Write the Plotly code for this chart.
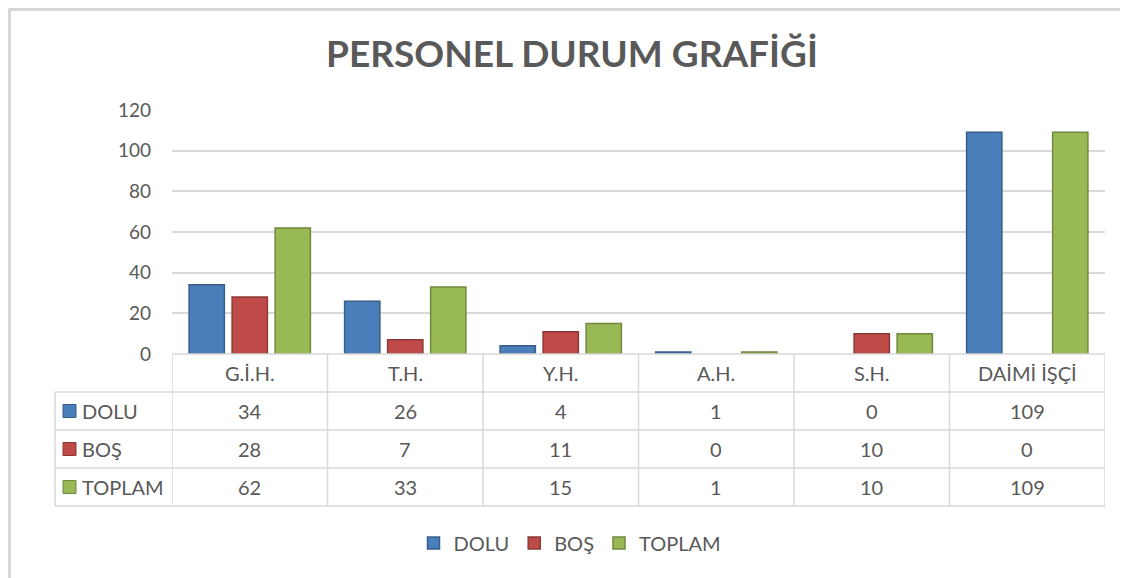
import plotly.graph_objects as go

categories = ["G.İ.H.", "T.H.", "Y.H.", "A.H.", "S.H.", "DAİMİ İŞÇİ"]
dolu = [34, 26, 4, 1, 0, 109]
bos = [28, 7, 11, 0, 10, 0]
toplam = [62, 33, 15, 1, 10, 109]
series_names = ["DOLU", "BOŞ", "TOPLAM"]
y_ticks = [0, 20, 40, 60, 80, 100, 120]

fills = ["#4A7EBB", "#BE4B48", "#98B954"]
edges = ["#385D8A", "#8C3836", "#71893F"]
TXT = "#595959"
GRID = "#D9D9D9"
FONT = "Lato"

OFF = 8  # page body margin
SW, SH = 1128, 578
W, H = SW - OFF, SH - OFF
# plot area in screen pixels
L, R, T, B = 172, 1105, 110, 354
PW, PH = R - L, B - T


def px(xp):
    return (xp - L) / PW


def py(yp):
    return (B - yp) / PH


fig = go.Figure()
series = [dolu, bos, toplam]
for name, vals, f, e in zip(series_names, series, fills, edges):
    fig.add_trace(go.Bar(
        x=categories, y=vals, name=name,
        marker=dict(color=f, line=dict(color=e, width=[0 if v == 0 else 1.5 for v in vals])),
        hoverinfo="x+y+name",
    ))

shapes = []
annotations = []

# outer chart border
shapes.append(dict(type="rect", xref="paper", yref="paper",
                   x0=px(9.5), x1=px(1140), y0=py(9.5), y1=py(600),
                   line=dict(color="#D6D6D6", width=3), layer="below"))

# table geometry (pixel rows)
row_tops = [354, 392, 430, 468, 506]
n = len(categories)
for i, yp in enumerate(row_tops):
    x0 = px(172) if i == 0 else px(55)
    shapes.append(dict(type="line", xref="paper", yref="paper",
                       x0=x0, x1=px(1105), y0=py(yp), y1=py(yp),
                       line=dict(color=GRID, width=1.5)))
for k in range(n + 1):
    shapes.append(dict(type="line", xref="x", yref="paper",
                       x0=k - 0.5, x1=k - 0.5, y0=py(354), y1=py(506),
                       line=dict(color=GRID, width=1.5)))
shapes.append(dict(type="line", xref="paper", yref="paper",
                   x0=px(55), x1=px(55), y0=py(392), y1=py(506),
                   line=dict(color=GRID, width=1.5)))

hy = py((354 + 392) / 2)
for c in categories:
    annotations.append(dict(x=c, y=hy, xref="x", yref="paper", text=c,
                            showarrow=False, font=dict(family=FONT, size=20, color=TXT),
                            xanchor="center", yanchor="middle"))
for r, (name, vals) in enumerate(zip(series_names, series)):
    ymid = py((row_tops[r + 1] + row_tops[r + 2]) / 2)
    shapes.append(dict(type="rect", xref="paper", yref="paper",
                       x0=px(63), x1=px(76), y0=ymid - 6.5 / PH, y1=ymid + 6.5 / PH,
                       fillcolor=fills[r], line=dict(color=edges[r], width=1)))
    annotations.append(dict(x=px(80), y=ymid, xref="paper", yref="paper", text=name,
                            showarrow=False, font=dict(family=FONT, size=20, color=TXT),
                            xanchor="left", yanchor="middle"))
    for c, v in zip(categories, vals):
        annotations.append(dict(x=c, y=ymid, xref="x", yref="paper", text=str(v),
                                showarrow=False, font=dict(family=FONT, size=20, color=TXT),
                                xanchor="center", yanchor="middle"))

fig.update_layout(
    width=W, height=H,
    margin=dict(l=L - OFF, r=SW - R, t=T - OFF, b=SH - B),
    paper_bgcolor="white", plot_bgcolor="white",
    title=dict(text="<b>PERSONEL DURUM GRAFİĞİ</b>", x=(572 - OFF) / W, xanchor="center",
               y=1 - (54 - OFF) / H, yanchor="middle",
               font=dict(family=FONT, size=37, color=TXT)),
    barmode="group", bargap=0.17, bargroupgap=0.18,
    xaxis=dict(showticklabels=False, showgrid=False, zeroline=False, showline=False,
               range=[-0.5, n - 0.5], fixedrange=True),
    yaxis=dict(range=[0, 120], tickvals=y_ticks, showgrid=True, gridcolor=GRID, gridwidth=1.5,
               zeroline=False, showline=False, ticks="", ticklabelstandoff=20,
               tickfont=dict(family=FONT, size=19, color=TXT)),
    legend=dict(orientation="h", x=px(570), xanchor="center", y=py(543), yanchor="middle",
                font=dict(family=FONT, size=20, color=TXT), itemwidth=30,
                traceorder="normal"),
    shapes=shapes, annotations=annotations,
    font=dict(family=FONT, color=TXT),
)

fig.write_html("out.html")
